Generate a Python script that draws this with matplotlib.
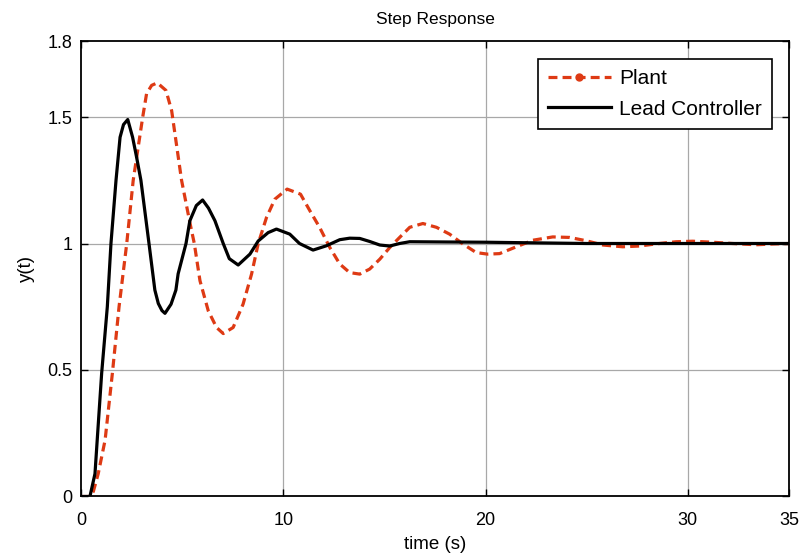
import matplotlib
matplotlib.use("Agg")
import matplotlib.pyplot as plt
from matplotlib.lines import Line2D

plt.rcParams['font.family'] = ['Liberation Sans', 'DejaVu Sans']

# values
t_plant = [0, 0.45, 0.61, 0.85, 1.19, 1.55, 1.88, 2.26, 2.58, 3.05, 3.24, 3.49, 3.77,
           4.2, 4.48, 4.97, 5.38, 5.6, 5.88, 6.29, 6.7, 7.03, 7.52, 8.01, 8.43, 8.76,
           9.17, 9.58, 10.19, 10.85, 11.31, 11.8, 12.3, 12.79, 13.28, 13.78, 14.27,
           14.77, 15.26, 15.75, 16.25, 16.9, 17.57, 18.22, 18.88, 19.54, 20.1, 20.69,
           21.52, 22.34, 23.32, 24.15, 24.97, 25.8, 26.78, 27.6, 28.59, 29.42, 30.24,
           31.23, 32.2, 33.37, 34.2, 35]
y_plant = [0, 0, 0.02, 0.09, 0.223, 0.487, 0.75, 1.0, 1.25, 1.5, 1.592, 1.625, 1.635,
           1.605, 1.525, 1.25, 1.083, 1.0, 0.853, 0.734, 0.668, 0.644, 0.668, 0.76, 0.879,
           1.0, 1.103, 1.175, 1.215, 1.195, 1.13, 1.063, 0.984, 0.919, 0.885, 0.879, 0.899,
           0.938, 0.984, 1.024, 1.064, 1.079, 1.064, 1.037, 0.998, 0.964, 0.958, 0.96,
           0.987, 1.013, 1.026, 1.024, 1.011, 0.994, 0.987, 0.99, 1.0, 1.007, 1.009,
           1.005, 1.0, 0.995, 0.998, 1.0]

t_lead = [0, 0.44, 0.69, 0.8, 1.02, 1.3, 1.48, 1.73, 1.93, 2.1, 2.31, 2.55, 2.75, 2.96,
          3.36, 3.65, 3.82, 4.0, 4.15, 4.45, 4.69, 4.8, 5.19, 5.38, 5.7, 6.01, 6.3, 6.62,
          7.03, 7.33, 7.77, 8.35, 8.76, 9.25, 9.66, 10.32, 10.8, 11.47, 12.13, 12.79,
          13.28, 13.78, 14.27, 14.77, 15.26, 15.75, 16.25, 18.0, 20.0, 22.0, 25.0, 35.0]
y_lead = [0, 0, 0.09, 0.223, 0.487, 0.75, 1.0, 1.25, 1.42, 1.47, 1.49, 1.42, 1.34, 1.25,
          1.0, 0.816, 0.763, 0.735, 0.724, 0.76, 0.816, 0.88, 1.0, 1.09, 1.15, 1.172,
          1.14, 1.09, 1.0, 0.94, 0.915, 0.958, 1.01, 1.043, 1.057, 1.037, 1.0, 0.974,
          0.991, 1.015, 1.021, 1.02, 1.008, 0.994, 0.99, 1.0, 1.007, 1.006, 1.005,
          1.003, 1.0, 1.0]

x_ticks = [0, 10, 20, 30, 35]
y_ticks = [0, 0.5, 1, 1.5, 1.8]
y_tick_labels = ['0', '0.5', '1', '1.5', '1.8']

red = '#DE3A14'

fig = plt.figure(figsize=(8.03, 5.6), dpi=100)
ax = fig.add_axes([0.1009, 0.1134, 0.8817, 0.8132])

ax.plot(t_plant, y_plant, color=red, linestyle='--', linewidth=2.3, dashes=(2.8, 1.6))
ax.plot(t_lead, y_lead, color='black', linewidth=2.3)

ax.set_xlim(0, 35)
ax.set_ylim(0, 1.8)
ax.set_xticks(x_ticks)
ax.set_yticks(y_ticks)
ax.set_yticklabels(y_tick_labels)
ax.tick_params(direction='in', length=5, width=1, top=True, right=True, labelsize=13)
ax.tick_params(axis='x', pad=11)
ax.tick_params(axis='y', pad=6)

# grid only at interior ticks, like the reference
for xv in x_ticks[1:-1]:
    ax.axvline(xv, color='#a8a8a8', linewidth=0.9, zorder=0)
for yv in y_ticks[1:-1]:
    ax.axhline(yv, color='#a8a8a8', linewidth=0.9, zorder=0)

for s in ax.spines.values():
    s.set_linewidth(1.3)

ax.set_title('Step Response', fontsize=12.5, pad=12)
ax.set_xlabel('time (s)', fontsize=13.5, labelpad=5)
ax.set_ylabel('y(t)', fontsize=13.5, labelpad=9)

handles = [Line2D([], [], color=red, linestyle='--', linewidth=2.3, dashes=(2.8, 1.6),
                  marker='o', markersize=5),
           Line2D([], [], color='black', linewidth=2.3)]
leg = ax.legend(handles, ['Plant', 'Lead Controller'], loc='upper right',
                bbox_to_anchor=(0.976, 0.961), fontsize=15, fancybox=False,
                framealpha=1, edgecolor='black', borderpad=0.5, handlelength=3.0,
                handletextpad=0.4, labelspacing=0.55, borderaxespad=0)
leg.get_frame().set_linewidth(1.2)
# put the marker in the middle of the sample line
for h in leg.legend_handles:
    if h.get_marker() == 'o':
        h.set_markevery([1])

fig.savefig('out.png', dpi=100)
